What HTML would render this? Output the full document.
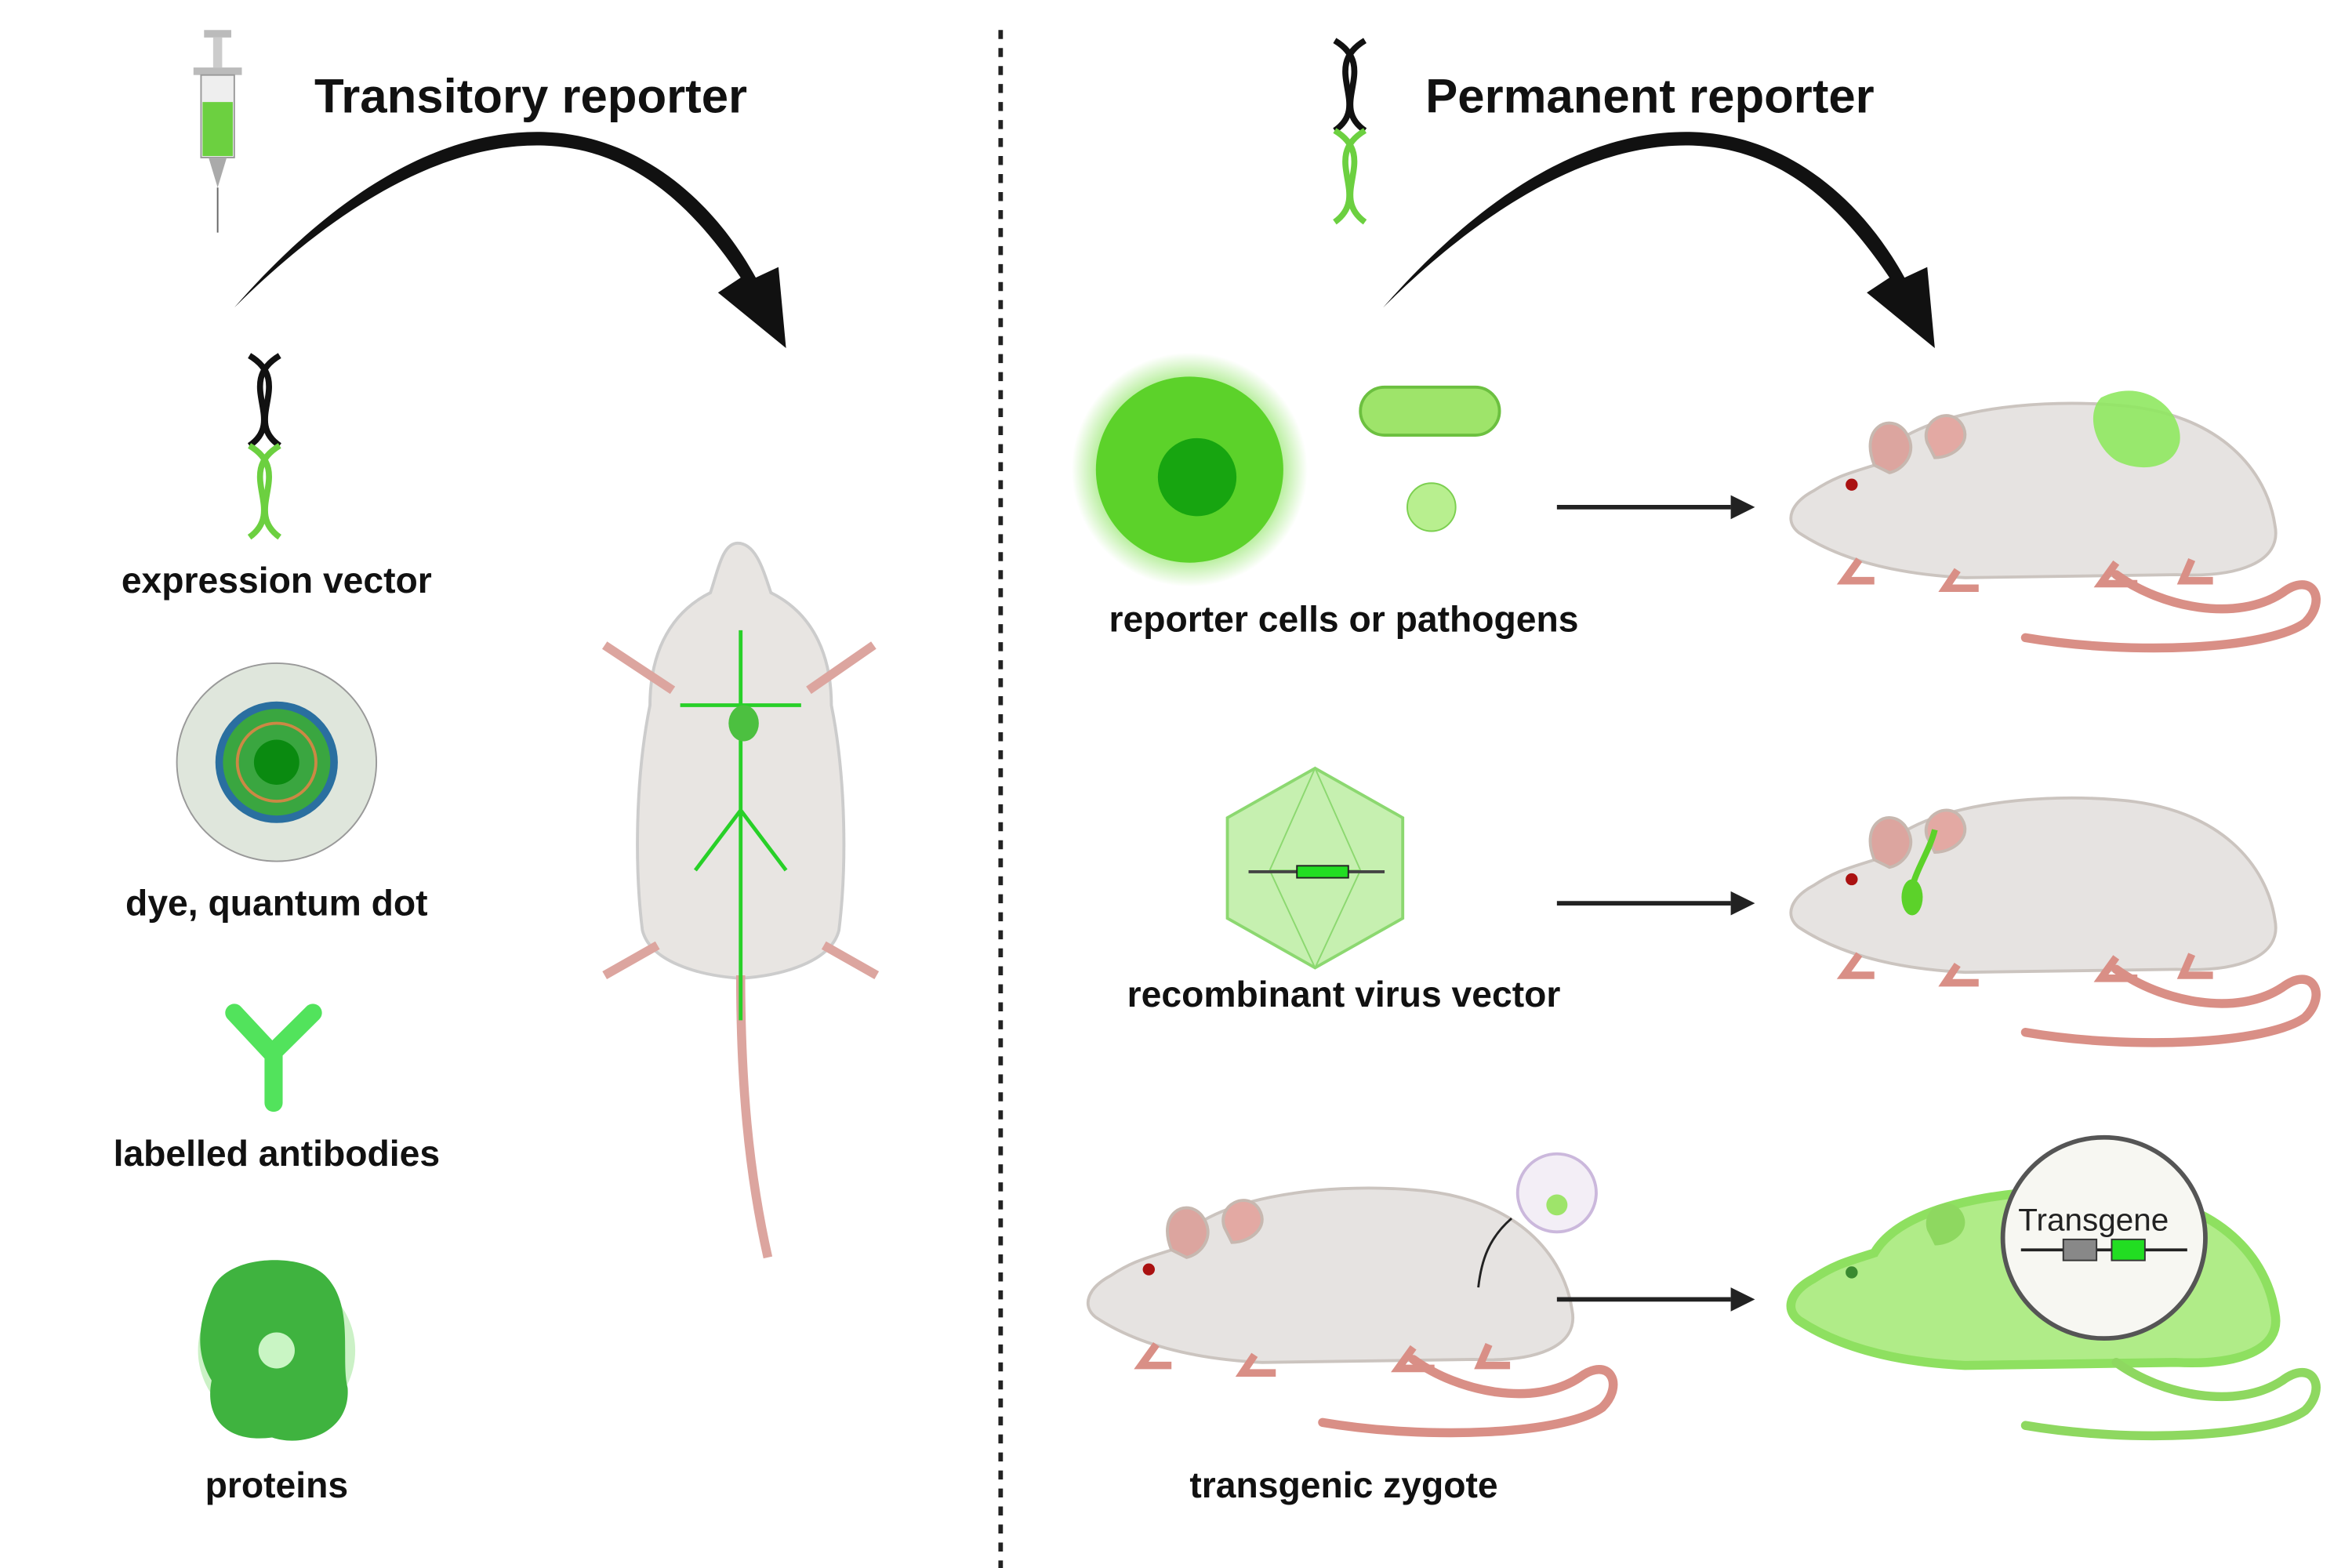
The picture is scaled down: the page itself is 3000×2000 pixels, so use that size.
<!DOCTYPE html>
<html><head><meta charset="utf-8"><style>
html,body{margin:0;padding:0;background:#fff;}
svg{display:block;}
text{font-family:"Liberation Sans",sans-serif;}
</style></head><body>
<svg width="3000" height="2000" viewBox="0 0 1556 1045" preserveAspectRatio="none" xmlns="http://www.w3.org/2000/svg" xmlns:xlink="http://www.w3.org/1999/xlink">
<defs>
<radialGradient id="glow"><stop offset="0.6" stop-color="#7be04a"/><stop offset="1" stop-color="#7be04a" stop-opacity="0"/></radialGradient>
<g id="mouse">
  <path d="M60,55 C80,20 160,10 220,15 C290,20 320,60 325,95 C330,120 300,130 260,128 L120,130 C80,128 40,120 10,100 C0,92 5,80 20,72 C35,62 45,60 60,55 Z" fill="#e6e3e1" stroke="#cbc4bf" stroke-width="2"/>
  <path d="M220,128 C250,150 300,160 330,140 C350,125 360,145 345,160 C320,178 230,182 160,170" fill="none" stroke="#d98f86" stroke-width="6" stroke-linecap="round"/>
  <path d="M60,55 C50,30 70,20 80,32 C90,45 80,58 70,60 Z" fill="#dca59f" stroke="#c7b8b0" stroke-width="2"/>
  <path d="M95,40 C90,25 110,15 118,28 C125,40 112,50 100,50 Z" fill="#e3a9a3" stroke="#c7b8b0" stroke-width="2"/>
  <circle cx="45" cy="68" r="4" fill="#a11"/>
  <path d="M50,118 l-10,14 l20,0 M115,125 l-8,12 l22,0 M220,120 l-10,14 l24,0 M270,118 l-6,14 l20,0" stroke="#d98f86" stroke-width="5" fill="none"/>
</g>
</defs>
<rect width="1556" height="1045" fill="#fff"/>
<line x1="662" y1="20" x2="662" y2="1045" stroke="#222" stroke-width="3" stroke-dasharray="6,6"/>

<text x="208" y="75" font-size="32" font-weight="bold" fill="#111">Transitory reporter</text>
<text x="943" y="75" font-size="32" font-weight="bold" fill="#111">Permanent reporter</text>

<path d="M155,205 C230,130 300,95 360,97 C420,99 460,140 490,185 L475,195 L520,232 L515,178 L500,185 C470,130 420,90 360,88 C290,86 220,130 155,205 Z" fill="#111"/>
<path d="M915,205 C990,130 1060,95 1120,97 C1180,99 1220,140 1250,185 L1235,195 L1280,232 L1275,178 L1260,185 C1230,130 1180,90 1120,88 C1050,86 980,130 915,205 Z" fill="#111"/>

<g>
<rect x="135" y="20" width="18" height="5" fill="#bbb"/><rect x="141" y="25" width="6" height="20" fill="#ccc"/>
<rect x="128" y="45" width="32" height="5" fill="#bbb"/>
<rect x="133" y="50" width="22" height="55" fill="#eee" stroke="#999"/><rect x="134" y="68" width="20" height="36" fill="#6cd040"/>
<path d="M138,105 L150,105 L144,125 Z" fill="#aaa"/><line x1="144" y1="125" x2="144" y2="155" stroke="#666"/>
</g>

<g fill="none" stroke-width="4">
<path d="M165,237 C195,255 160,280 185,297" stroke="#111"/><path d="M185,237 C155,255 190,280 165,297" stroke="#111"/>
<path d="M165,297 C195,315 160,340 185,358" stroke="#6cd040"/><path d="M185,297 C155,315 190,340 165,358" stroke="#6cd040"/>
</g>
<g fill="none" stroke-width="4">
<path d="M883,27 C913,45 878,70 903,87" stroke="#111"/><path d="M903,27 C873,45 908,70 883,87" stroke="#111"/>
<path d="M883,87 C913,105 878,130 903,148" stroke="#6cd040"/><path d="M903,87 C873,105 908,130 883,148" stroke="#6cd040"/>
</g>
<text x="183" y="395" font-size="24" font-weight="bold" text-anchor="middle" fill="#111">expression vector</text>

<g>
<circle cx="183" cy="508" r="66" fill="#dfe6dc" stroke="#999"/>
<circle cx="183" cy="508" r="38" fill="#3aa640" stroke="#2a6fa0" stroke-width="5"/>
<circle cx="183" cy="508" r="26" fill="#3aa640" stroke="#c84" stroke-width="2"/>
<circle cx="183" cy="508" r="15" fill="#0a8a10"/>
</g>
<text x="183" y="610" font-size="24" font-weight="bold" text-anchor="middle" fill="#111">dye, quantum dot</text>

<g stroke="#3fe04a" stroke-width="12" stroke-linecap="round" fill="none" opacity="0.9">
<path d="M155,675 L180,702 L207,675 M181,702 L181,735"/>
</g>
<text x="183" y="777" font-size="24" font-weight="bold" text-anchor="middle" fill="#111">labelled antibodies</text>

<g>
<circle cx="183" cy="900" r="52" fill="#a8e8a0" opacity="0.6"/>
<path d="M140,860 C150,835 200,835 215,850 C235,870 225,905 230,925 C232,955 200,965 180,958 C150,962 135,945 140,920 C128,900 132,880 140,860 Z" fill="#3fb33f"/>
<circle cx="183" cy="900" r="12" fill="#c9f5c4"/>
</g>
<text x="183" y="998" font-size="24" font-weight="bold" text-anchor="middle" fill="#111">proteins</text>

<g>
<path d="M488,362 C500,362 505,380 510,395 C540,410 550,440 550,470 C560,520 560,580 555,620 C550,640 520,650 490,652 C460,650 430,640 425,620 C420,580 420,520 430,470 C430,440 440,410 470,395 C475,380 478,362 488,362 Z" fill="#e8e5e2" stroke="#ccc" stroke-width="2"/>
<path d="M445,460 L400,430 M535,460 L578,430 M435,630 L400,650 M545,630 L580,650" stroke="#dca59f" stroke-width="6"/>
<path d="M490,650 C490,720 495,780 508,838" stroke="#dca59f" stroke-width="6" fill="none"/>
<path d="M490,420 L490,680 M490,470 L450,470 M490,470 L530,470 M490,540 L460,580 M490,540 L520,580" stroke="#28d028" stroke-width="2.5" fill="none"/>
<ellipse cx="492" cy="482" rx="10" ry="12" fill="#4cc040"/>
</g>

<g>
<circle cx="787" cy="313" r="78" fill="url(#glow)"/>
<circle cx="787" cy="313" r="62" fill="#5cd22a"/>
<circle cx="792" cy="318" r="26" fill="#17a510"/>
</g>
<g>
<rect x="900" y="258" width="92" height="32" rx="16" fill="#9ee46a" stroke="#6cc040" stroke-width="2"/>
</g>
<g>
<circle cx="947" cy="338" r="16" fill="#b8ef8f" stroke="#7ccf50"/>
</g>
<line x1="1030" y1="338" x2="1145" y2="338" stroke="#222" stroke-width="3"/>
<path d="M1145,330 L1161,338 L1145,346 Z" fill="#222"/>
<text x="889" y="421" font-size="24" font-weight="bold" text-anchor="middle" fill="#111">reporter cells or pathogens</text>

<g>
<polygon points="870,512 928,545 928,612 870,645 812,612 812,545" fill="#c6f0b0" stroke="#8cd870" stroke-width="2"/>
<path d="M870,512 L840,580 L900,580 Z M840,580 L870,645 L900,580" fill="none" stroke="#8cd870"/>
<line x1="826" y1="581" x2="916" y2="581" stroke="#444" stroke-width="2"/>
<rect x="858" y="577" width="34" height="8" fill="#22dd22" stroke="#222"/>
</g>
<line x1="1030" y1="602" x2="1145" y2="602" stroke="#222" stroke-width="3"/>
<path d="M1145,594 L1161,602 L1145,610 Z" fill="#222"/>
<text x="889" y="671" font-size="24" font-weight="bold" text-anchor="middle" fill="#111">recombinant virus vector</text>

<g transform="translate(1180,255)">
<use xlink:href="#mouse"/>
<path d="M210,10 C240,-5 265,20 262,40 C258,58 235,60 220,52 C205,42 200,20 210,10 Z" fill="#8fe860" opacity="0.9"/>
</g>
<g transform="translate(1180,518)">
<use xlink:href="#mouse"/>
<path d="M100,35 C95,55 80,70 85,90" stroke="#5cd22a" stroke-width="4" fill="none"/>
<ellipse cx="85" cy="80" rx="7" ry="12" fill="#5cd22a"/>
</g>
<g transform="translate(715,778)">
<use xlink:href="#mouse"/>
</g>
<circle cx="1030" cy="795" r="26" fill="#f3eef6" stroke="#cbb8dc" stroke-width="2"/>
<circle cx="1030" cy="803" r="7" fill="#9ee46a"/>
<path d="M1000,812 C985,825 980,840 978,858" stroke="#222" stroke-width="1.5" fill="none"/>
<line x1="1030" y1="866" x2="1145" y2="866" stroke="#222" stroke-width="3"/>
<path d="M1145,858 L1161,866 L1145,874 Z" fill="#222"/>
<text x="889" y="998" font-size="24" font-weight="bold" text-anchor="middle" fill="#111">transgenic zygote</text>

<g transform="translate(1180,780)">
<path d="M60,55 C80,20 160,10 220,15 C290,20 320,60 325,95 C330,120 300,130 260,128 L120,130 C80,128 40,120 10,100 C0,92 5,80 20,72 C35,62 45,60 60,55 Z" fill="#b0ec88" stroke="#8ee060" stroke-width="6"/>
<path d="M220,128 C250,150 300,160 330,140 C350,125 360,145 345,160 C320,178 230,182 160,170" fill="none" stroke="#8ed860" stroke-width="6" stroke-linecap="round"/>
<path d="M95,40 C90,25 110,15 118,28 C125,40 112,50 100,50 Z" fill="#8ed860"/>
<circle cx="45" cy="68" r="4" fill="#3a8a30"/>
</g>
<g>
<circle cx="1392" cy="825" r="67" fill="#f7f7f2" stroke="#555" stroke-width="3"/>
<text x="1385" y="820" font-size="21" text-anchor="middle" fill="#222">Transgene</text>
<line x1="1337" y1="833" x2="1447" y2="833" stroke="#222" stroke-width="2"/>
<rect x="1365" y="826" width="22" height="14" fill="#888" stroke="#333"/>
<rect x="1397" y="826" width="22" height="14" fill="#22dd22" stroke="#333"/>
</g>
</svg>
</body></html>
